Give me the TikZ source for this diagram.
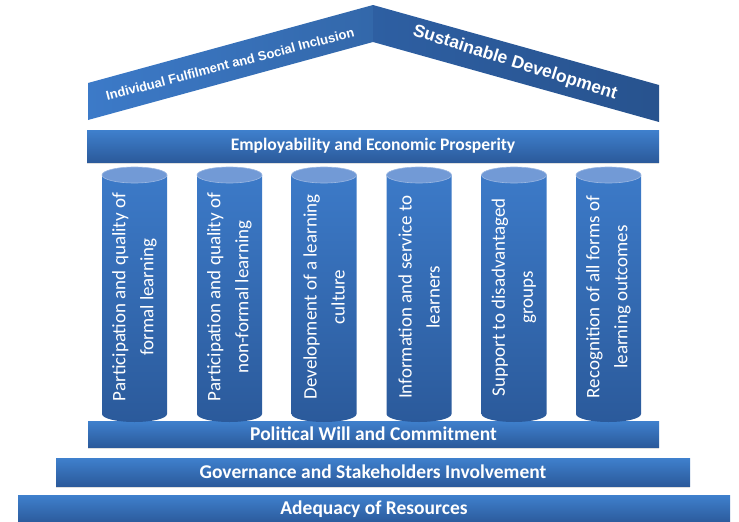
\documentclass[tikz,border=0pt]{standalone}
\usepackage{fontspec}
\setmainfont{Carlito}
\newfontfamily\rooffont{Liberation Sans}
\usetikzlibrary{shadows}

\definecolor{bandtop}{RGB}{63,128,205}
\definecolor{bandbot}{RGB}{43,90,155}
\definecolor{roofl}{RGB}{60,122,200}
\definecolor{roofr}{RGB}{44,92,158}
\definecolor{capcol}{RGB}{114,154,214}

\tikzset{
  band/.style={top color=bandtop, bottom color=bandbot, inner sep=0pt,
    text=white, font=\bfseries\fontsize{19.5}{22}\selectfont,
    drop shadow={shadow xshift=0pt, shadow yshift=-2pt, opacity=0.25}},
  pillar/.style={top color=roofl, bottom color=bandbot},
  pillarcap/.style={fill=capcol, draw=capcol!70!white, line width=0.6pt},
  pillartext/.style={rotate=90, align=center, text=white,
    font=\fontsize{19}{28}\selectfont}
}

\begin{document}
\begin{tikzpicture}[x=1pt, y=-1pt]
\useasboundingbox (0,0) rectangle (739,522);

% roof
\coordinate (LT) at (88,83);
\coordinate (LB) at (88,120);
\coordinate (AT) at (373,5);
\coordinate (AB) at (373,42);
\coordinate (RT) at (659,85);
\coordinate (RB) at (659,122);
\shade[left color=roofl, right color=roofl!85!black] (LT) -- (AT) -- (AB) -- (LB) -- cycle;
\shade[left color=roofr!90!roofl, right color=roofr!90!black] (AT) -- (RT) -- (RB) -- (AB) -- cycle;
\node[rotate=14.5, text=white, font=\rooffont\bfseries\fontsize{13}{15}\selectfont] (fulfil) at (230,64) {Individual Fulfilment and Social Inclusion};
\node[rotate=-17.5, text=white, font=\rooffont\bfseries\fontsize{17.5}{20}\selectfont] (sustain) at (515,63) {Sustainable Development};

% beam and steps
\node[band, minimum width=572pt, minimum height=32pt, font=\bfseries\fontsize{17.6}{20}\selectfont] (employ) at (373,146) {Employability and Economic Prosperity};
\node[band, minimum width=571pt, minimum height=26pt] (political) at (373.5,434) {Political Will and Commitment};
\node[band, minimum width=634pt, minimum height=28pt] (govern) at (373,472) {Governance and Stakeholders Involvement};
\node[band, minimum width=712pt, minimum height=28pt] (adequacy) at (374,509) {Adequacy of Resources};

% pillars
\foreach \cx/\txt [count=\i] in {
    134.5/{Participation and quality of\\formal learning},
    229.5/{Participation and quality of\\non-formal learning},
    324/{Development of a learning\\culture},
    419/{Information and service to\\learners},
    514/{Support to disadvantaged\\groups},
    608.5/{Recognition of all forms of\\learning outcomes}} {
  \shade[pillar] (\cx-32.5,175) -- (\cx-32.5,414)
    arc[start angle=180, end angle=0, x radius=32.5, y radius=8]
    -- (\cx+32.5,175) -- cycle;
  \draw[pillarcap] (\cx,175) ellipse[x radius=32.5, y radius=8];
  \node[pillartext] (p\i) at (\cx,297) {\txt};
}
\end{tikzpicture}
\end{document}
